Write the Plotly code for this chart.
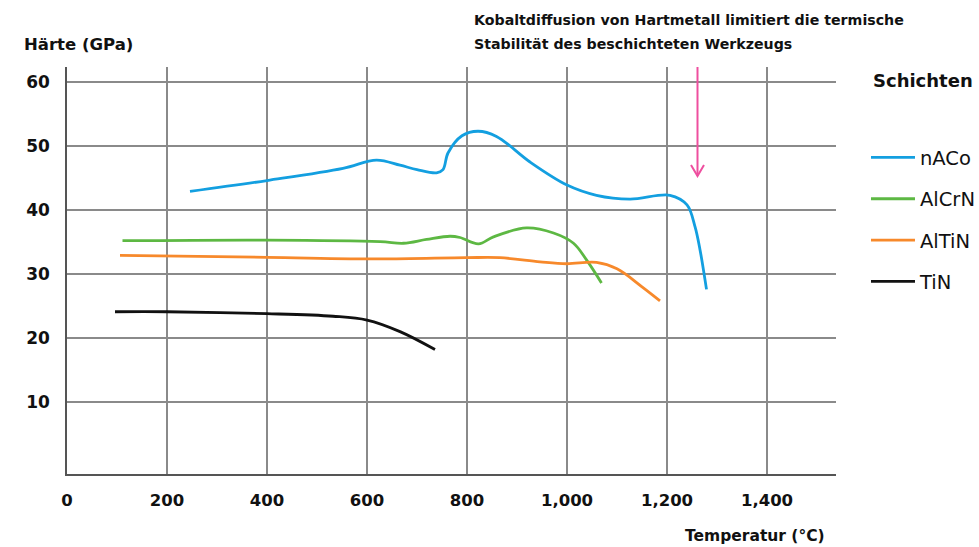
import plotly.graph_objects as go

# ---- data ----
naco_T = [246, 400, 552, 619, 666, 700, 739, 752, 762, 790, 822, 859, 926, 1000, 1059, 1126, 1206, 1240, 1256, 1266, 1279]
naco_H = [42.9, 44.6, 46.5, 47.8, 47.0, 46.3, 45.8, 46.3, 48.9, 51.6, 52.3, 51.5, 47.5, 43.9, 42.3, 41.7, 42.3, 40.8, 37.4, 33.8, 27.6]

alcrn_T = [111, 400, 626, 673, 719, 766, 786, 823, 853, 919, 973, 1013, 1039, 1069]
alcrn_H = [35.2, 35.3, 35.05, 34.8, 35.4, 35.9, 35.7, 34.7, 35.8, 37.2, 36.4, 34.8, 32.2, 28.6]

altin_T = [106, 400, 626, 799, 866, 946, 999, 1059, 1100, 1150, 1186]
altin_H = [32.9, 32.6, 32.35, 32.55, 32.55, 31.9, 31.6, 31.8, 30.8, 28.0, 25.8]

tin_T = [96, 200, 400, 532, 600, 666, 736]
tin_H = [24.1, 24.1, 23.8, 23.4, 22.8, 21.0, 18.2]

series_names = ["nACo", "AlCrN", "AlTiN", "TiN"]
series_colors = ["#139fe0", "#5db843", "#f7892b", "#111111"]

x_ticks = [0, 200, 400, 600, 800, 1000, 1200, 1400]
x_ticklabels = ["0", "200", "400", "600", "800", "1,000", "1,200", "1,400"]
y_ticks = [10, 20, 30, 40, 50, 60]

arrow_T = 1261
arrow_top = 62.4
arrow_tip = 45.3

note_lines = ["Kobaltdiffusion von Hartmetall limitiert die termische",
              "Stabilität des beschichteten Werkzeugs"]

FONT = "DejaVu Sans"
fig = go.Figure()

for name, color, T, H in zip(series_names, series_colors,
                             [naco_T, alcrn_T, altin_T, tin_T],
                             [naco_H, alcrn_H, altin_H, tin_H]):
    fig.add_trace(go.Scatter(x=T, y=H, mode="lines", name=name, legendgroup=name,
                             line=dict(color=color, width=2.8, shape="spline", smoothing=1.0),
                             hoverinfo="skip"))

# arrow (line + open V head)
fig.add_trace(go.Scatter(x=[arrow_T, arrow_T], y=[arrow_top, arrow_tip], mode="lines",
                         line=dict(color="#ee4f9f", width=2), showlegend=False, hoverinfo="skip"))
fig.add_shape(type="path", xref="x", yref="y", xsizemode="pixel", ysizemode="pixel",
              xanchor=arrow_T, yanchor=arrow_tip,
              path="M -6.5 11 L 0 0 L 6.5 11",
              line=dict(color="#ee4f9f", width=2))

def px_x(px):
    return (px - 67) / 769

def px_y(py):
    return (474 - py) / 407

annos = [
    dict(text="Härte (GPa)", x=px_x(22), y=px_y(44), xanchor="left",
         font=dict(family=FONT, size=16.5, color="#111", weight="bold")),
    dict(text="Temperatur (°C)", x=px_x(827), y=px_y(536), xanchor="right",
         font=dict(family=FONT, size=15.5, color="#111", weight="bold")),
    dict(text="Schichten", x=px_x(871), y=px_y(80), xanchor="left",
         font=dict(family=FONT, size=18, color="#111", weight="bold")),
]
for i, line in enumerate(note_lines):
    annos.append(dict(text=line, x=px_x(472), y=px_y(20 + 24 * i), xanchor="left",
                      font=dict(family=FONT, size=14.2, color="#111", weight="bold")))
for a in annos:
    a.update(xref="paper", yref="paper", yanchor="middle", showarrow=False)

fig.update_layout(
    width=979, height=547,
    margin=dict(l=67, r=143, t=67, b=73, autoexpand=False),
    paper_bgcolor="white", plot_bgcolor="white",
    showlegend=True,
    legend=dict(x=1.039, y=0.825, xanchor="left", yanchor="top",
                font=dict(family=FONT, size=19.5, color="#111"),
                itemwidth=44,
                tracegroupgap=13, bgcolor="rgba(0,0,0,0)"),
    xaxis=dict(range=[0, 1538], tickvals=x_ticks, ticktext=x_ticklabels,
               showgrid=True, gridcolor="#8a8a8a", gridwidth=1.6,
               showline=True, linecolor="#555", linewidth=1.6,
               zeroline=False, ticks="", ticklabelstandoff=10,
               tickfont=dict(family=FONT, size=16.5, color="#111", weight="bold")),
    yaxis=dict(range=[-1.25, 62.34], tickvals=y_ticks,
               showgrid=True, gridcolor="#8a8a8a", gridwidth=1.6,
               showline=True, linecolor="#555", linewidth=1.6,
               zeroline=False, ticks="", ticklabelstandoff=12,
               tickfont=dict(family=FONT, size=17, color="#111", weight="bold")),
    annotations=annos,
)

fig.write_html("out.html", config={"displayModeBar": False},
               post_script="document.body.style.margin='0';document.body.style.overflow='hidden';")
